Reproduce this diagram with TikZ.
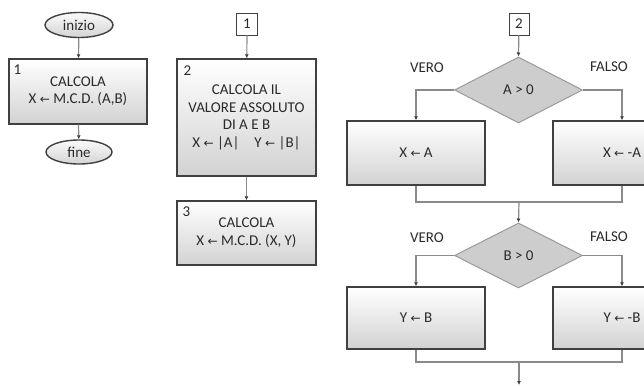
\documentclass[tikz,border=0pt]{standalone}
\usepackage{fontspec}
\setmainfont{Carlito}
\newfontfamily\arrfont{DejaVu Sans}
\usetikzlibrary{shapes.geometric,arrows.meta}
\newcommand{\lar}{{\arrfont\fontsize{12}{12}\selectfont ←}}
\definecolor{boxborder}{HTML}{404040}
\definecolor{shadegray}{HTML}{D2D2D2}
\definecolor{linegray}{HTML}{8A8A8A}
\definecolor{diafill}{HTML}{CDCDCD}
\definecolor{diaborder}{HTML}{9A9A9A}
\definecolor{txtgray}{HTML}{2A2A2A}
\definecolor{termfill}{HTML}{D4D4D4}
\begin{document}
\begin{tikzpicture}[x=1pt,y=-1pt,
  font=\fontsize{15}{17.5}\selectfont, text=txtgray,
  proc/.style={rectangle, draw=boxborder, line width=1.4pt, top color=white, bottom color=shadegray,
    minimum width=138pt, inner sep=0pt, align=center},
  term/.style={ellipse, draw=boxborder, line width=1.4pt, top color=white!96!gray, bottom color=termfill,
    minimum width=68pt, minimum height=25pt, inner sep=0pt},
  connbox/.style={rectangle, draw=boxborder, line width=0.9pt, fill=white, minimum width=21pt, minimum height=22pt, inner sep=0pt},
  dec/.style={diamond, aspect=1.94, draw=diaborder, line width=1pt, fill=diafill, minimum width=128pt, minimum height=66pt, inner sep=0pt},
  numlbl/.style={anchor=north west, inner sep=0pt},
  conn/.style={draw=linegray, line width=1.2pt},
  arrow/.style={conn, -{Latex[length=4pt,width=4pt,color=boxborder]}},
  lbl/.style={inner sep=0pt}
]
\path[use as bounding box] (0,0) rectangle (644,385);
\clip (0,0) rectangle (644,385);

% left column
\node[term] (inizio) at (79,25) {inizio};
\node[proc, minimum height=65pt] (b1) at (78,91.5) {\raisebox{-2pt}{\begin{tabular}{@{}c@{}}CALCOLA\\X \lar{} M.C.D. (A,B)\end{tabular}}};
\node[numlbl] (n1) at ([xshift=5pt,yshift=-6pt]b1.north west) {1};
\node[term, minimum width=66pt, minimum height=24pt] (fine) at (79,152) {fine};
\draw[arrow] (inizio) -- (b1);
\draw[arrow] (b1) -- (fine);

% middle column
\node[connbox] (c1) at (247,24) {1};
\node[proc, minimum width=139pt, minimum height=117pt] (b2) at (246.5,117.5)
  {CALCOLA IL\\VALORE ASSOLUTO\\DI A E B\\X \lar{} |A|\quad Y \lar{} |B|};
\node[numlbl] (n2) at ([xshift=7pt,yshift=-7pt]b2.north west) {2};
\node[proc, minimum width=139pt, minimum height=64pt] (b3) at (246.5,233)
  {\raisebox{-4pt}{\begin{tabular}{@{}c@{}}CALCOLA\\X \lar{} M.C.D. (X, Y)\end{tabular}}};
\node[numlbl] (n3) at ([xshift=6pt,yshift=-6pt]b3.north west) {3};
\draw[arrow] (c1) -- (b2);
\draw[arrow] (b2) -- (b3);

% right column
\node[connbox, minimum width=20pt] (c2) at (519,24) {2};
\node[dec] (d1) at (518.5,90) {A > 0};
\node[lbl] (v1) at (427,68) {VERO};
\node[lbl] (f1) at (609,67) {FALSO};
\node[proc, minimum height=64pt] (bxa) at (416,153) {X \lar{} A};
\node[proc, minimum height=64pt] (bxna) at (622,153) {X \lar{} -A};
\draw[arrow] (c2) -- (d1.north);
\draw[arrow] (d1.west) -| (bxa.north);
\draw[arrow] (d1.east) -| (bxna.north);
\coordinate (m1) at (519,202);
\draw[conn] (bxa.south) |- (m1) -| (bxna.south);

\node[dec, minimum height=65pt] (d2) at (518.5,255.5) {B > 0};
\node[lbl] (v2) at (427,238) {VERO};
\node[lbl] (f2) at (609,237) {FALSO};
\node[proc, minimum height=62pt] (bya) at (416,318) {Y \lar{} B};
\node[proc, minimum height=62pt] (byna) at (622,318) {Y \lar{} -B};
\draw[arrow] (m1) -- (d2.north);
\draw[arrow] (d2.west) -| (bya.north);
\draw[arrow] (d2.east) -| (byna.north);
\coordinate (m2) at (519,362);
\coordinate (end) at (519,385);
\draw[conn] (bya.south) |- (m2) -| (byna.south);
\draw[arrow] (m2) -- (end);
\end{tikzpicture}
\end{document}
